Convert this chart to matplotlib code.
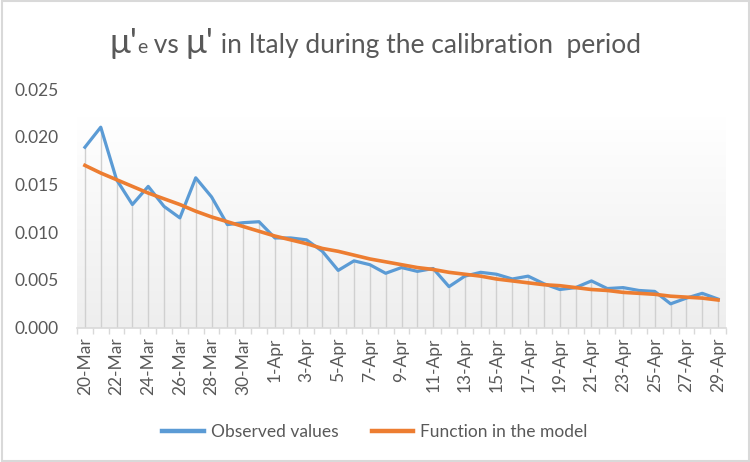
import numpy as np
import matplotlib
matplotlib.use("Agg")
import matplotlib.pyplot as plt
from matplotlib.offsetbox import TextArea, HPacker, AnchoredOffsetbox
from matplotlib.patches import Rectangle

# ─── Data ────────────────────────────────────────────────────────────────────

dates = (
    [f"{d}-Mar" for d in range(20, 32)] +
    [f"{d}-Apr" for d in range(1, 30)]
)

observed = [
    0.0189, 0.0210, 0.0155, 0.0129, 0.0148, 0.0127, 0.0115, 0.0157, 0.0137, 0.0108,
    0.0110, 0.0111, 0.0094, 0.0094, 0.0092, 0.0080, 0.0060, 0.0070, 0.0066, 0.0057,
    0.0063, 0.0059, 0.0062, 0.0043, 0.0054, 0.0058, 0.0056, 0.0051, 0.0054, 0.0046,
    0.0040, 0.0042, 0.0049, 0.0041, 0.0042, 0.0039, 0.0038, 0.0025, 0.0031, 0.0036,
    0.0030,
]

model = [
    0.0170, 0.0162, 0.0155, 0.0148, 0.0141, 0.0135, 0.0129, 0.0122, 0.0116, 0.0111,
    0.0106, 0.0101, 0.0096, 0.0092, 0.0088, 0.0083, 0.0080, 0.0076, 0.0072, 0.0069,
    0.0066, 0.0063, 0.0061, 0.0058, 0.0056, 0.0054, 0.0051, 0.0049, 0.0047, 0.0045,
    0.0044, 0.0042, 0.0040, 0.0039, 0.0037, 0.0036, 0.0035, 0.0033, 0.0032, 0.0031,
    0.0029,
]

yticks = [0.000, 0.005, 0.010, 0.015, 0.020, 0.025]

BLUE = "#5B9BD5"
ORANGE = "#ED7D31"
TXT = "#595959"
GRID = "#D9D9D9"

plt.rcParams["font.family"] = ["Lato", "DejaVu Sans"]

fig = plt.figure(figsize=(7.5, 4.62), dpi=100)
ax = fig.add_axes([77 / 750, 1 - 327.7 / 462, (726 - 77) / 750, (327.7 - 89) / 462])

x = np.arange(len(dates))

# plot-area gradient (white at top → light grey at bottom)
grad = np.linspace(0, 1, 256).reshape(-1, 1)
cmap = matplotlib.colors.LinearSegmentedColormap.from_list("g", ["#EEEEEE", "#FFFFFF"])
ax.imshow(grad, extent=[-0.5, len(dates) - 0.5, 0, 0.022], origin="lower",
          aspect="auto", cmap=cmap, zorder=0)

# drop lines
ax.vlines(x, 0, observed, color="#D0D0D0", lw=1.0, zorder=1)

ax.plot(x, observed, color=BLUE, lw=2.3, label="Observed values", zorder=3,
        solid_joinstyle="round")
ax.plot(x, model, color=ORANGE, lw=2.6, label="Function in the model", zorder=4,
        solid_joinstyle="round")

ax.set_xlim(-0.5, len(dates) - 0.5)
ax.set_ylim(0, 0.025)

ax.set_yticks(yticks)
ax.set_yticklabels([f"{v:.3f}" for v in yticks])
ax.tick_params(axis="y", length=0, pad=13, labelsize=12.5, labelcolor=TXT)

ax.set_xticks(x[::2])
ax.set_xticklabels(dates[::2], rotation=90)
ax.set_xticks(np.arange(-0.5, len(dates)), minor=True)
ax.tick_params(axis="x", which="major", length=0, pad=7, labelsize=12.5, labelcolor=TXT)
ax.tick_params(axis="x", which="minor", length=4, color=GRID, width=1)

for s in ["top", "right", "left"]:
    ax.spines[s].set_visible(False)
ax.spines["bottom"].set_color(GRID)
ax.spines["bottom"].set_linewidth(1.2)

# title with mixed sizes
parts = [("μ'", 25), ("e", 14), (" vs ", 19), ("μ'", 25),
         (" in Italy during the calibration  period", 19)]
boxes = [TextArea(t, textprops=dict(size=s, color=TXT)) for t, s in parts]
title = HPacker(children=boxes, align="baseline", pad=0, sep=0)
anchored = AnchoredOffsetbox(loc="center", child=title, frameon=False,
                             bbox_to_anchor=(0.5, 1 - 43 / 462),
                             bbox_transform=fig.transFigure, borderpad=0, pad=0)
fig.add_artist(anchored)

leg = fig.legend(loc="center", bbox_to_anchor=(0.5, 1 - 432 / 462), ncol=2,
                 frameon=False, fontsize=12.5, labelcolor=TXT, handlelength=2.4,
                 columnspacing=1.9, handletextpad=0.4)
for ln in leg.get_lines():
    ln.set_linewidth(3.2)

# outer chart border
fig.add_artist(Rectangle((0.002, 0.003), 0.996, 0.994, transform=fig.transFigure,
                         fill=False, edgecolor=GRID, lw=1.5))

fig.savefig("out.png", dpi=100)
